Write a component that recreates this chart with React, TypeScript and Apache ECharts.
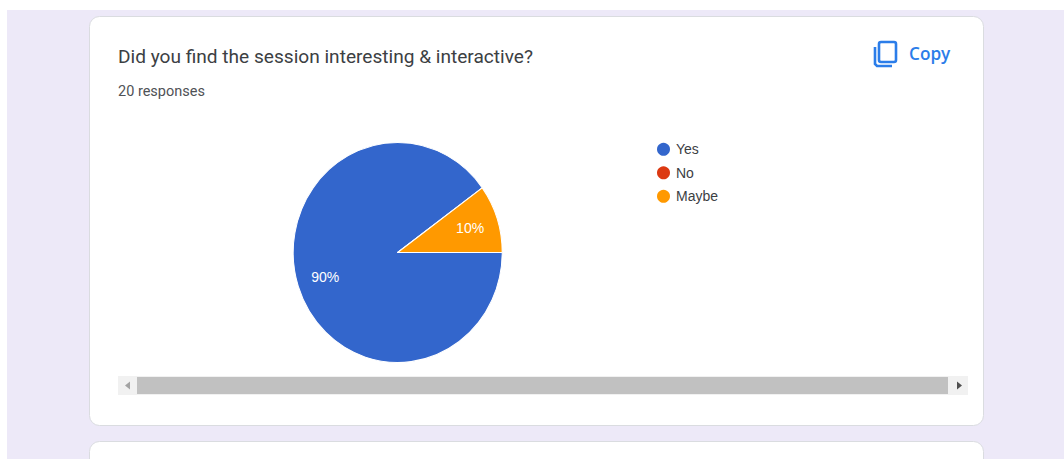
import React, { useEffect, useRef } from "react";
import * as echarts from "echarts";

const categories = ["Yes", "No", "Maybe"];
const seriesValues = [18, 0, 2];
const sliceColors = ["#3366cc", "#dc3912", "#ff9900"];
const titleText = "Did you find the session interesting & interactive?";
const responsesText = "20 responses";
const copyText = "Copy";

const PIE_RADIUS = 104.5;
const PIE_CX = 397.7;
const PIE_CY = 252.5;
const PIE_STRETCH_Y = 1.053;
const LABEL_RATIO = 0.7;
const total = seriesValues.reduce((a, b) => a + b, 0);

function midAngle(index: number) {
  let before = 0;
  for (let i = 0; i < index; i++) before += seriesValues[i];
  return ((before + seriesValues[index] / 2) / total) * Math.PI * 2;
}

export default function App() {
  const ref = useRef<HTMLDivElement>(null);
  useEffect(() => {
    document.body.style.margin = "0";
    const chart = echarts.init(ref.current!, null, { renderer: "svg" });
    const blue = "#2b7de9";
    chart.setOption({
      animation: false,
      backgroundColor: "#ffffff",
      color: sliceColors,
      legend: {
        orient: "vertical",
        left: 655,
        top: 140.8,
        padding: 0,
        icon: "circle",
        itemWidth: 15,
        itemHeight: 15,
        itemGap: 6.5,
        data: categories,
        selectedMode: false,
        textStyle: { fontFamily: "Liberation Sans", fontSize: 14, color: "#3c4043" },
      },
      graphic: [
        { type: "rect", z: -10, shape: { x: 7, y: 10, width: 1057, height: 449 }, style: { fill: "#ede9f8" } },
        { type: "rect", z: -9, shape: { x: 89.5, y: 16.5, width: 894, height: 409, r: 10 }, style: { fill: "#ffffff", stroke: "#dadce0", lineWidth: 1 } },
        { type: "rect", z: -9, shape: { x: 89.5, y: 441.5, width: 894, height: 60, r: 10 }, style: { fill: "#ffffff", stroke: "#dadce0", lineWidth: 1 } },
        { type: "text", x: 118, y: 46.5, style: { text: titleText, fontFamily: "Roboto", fontSize: 19.1, fill: "#3c4043" } },
        { type: "text", x: 118, y: 83.5, style: { text: responsesText, fontFamily: "Roboto", fontSize: 14.5, fill: "#4f5256" } },
        { type: "rect", shape: { x: 879, y: 42, width: 17, height: 20, r: 2 }, style: { fill: "none", stroke: blue, lineWidth: 2.6 } },
        { type: "polyline", shape: { points: [[875, 47], [875, 64], [877, 66], [892, 66]] }, style: { fill: "none", stroke: blue, lineWidth: 2.6 } },
        { type: "text", x: 909, y: 44.5, style: { text: copyText, fontFamily: "Open Sans", fontSize: 17.2, fontWeight: 600, fill: blue } },
        { type: "rect", shape: { x: 118, y: 376, width: 850, height: 19 }, style: { fill: "#f1f1f1" } },
        { type: "rect", shape: { x: 137, y: 377, width: 811, height: 17 }, style: { fill: "#c1c1c1" } },
        { type: "polygon", shape: { points: [[130, 381.5], [130, 389.5], [125, 385.5]] }, style: { fill: "#a3a3a3" } },
        { type: "polygon", shape: { points: [[957, 381.5], [957, 389.5], [962, 385.5]] }, style: { fill: "#505050" } },
      ],
      series: [
        {
          type: "pie",
          center: [PIE_CX, PIE_CY],
          radius: [0, PIE_RADIUS],
          startAngle: 0,
          clockwise: true,
          silent: true,
          data: categories.map((name, i) => ({ name, value: seriesValues[i] })),
          itemStyle: { borderColor: "#ffffff", borderWidth: 1 },
          label: {
            show: true,
            position: "inside",
            color: "#ffffff",
            fontFamily: "Liberation Sans",
            fontSize: 14,
            formatter: (p: any) => (p.value > 0 ? `${Math.round(p.percent)}%` : ""),
          },
          labelLayout: (p: any) => {
            const a = midAngle(p.dataIndex);
            const shift = (LABEL_RATIO - 0.5) * PIE_RADIUS;
            return { dx: Math.cos(a) * shift, dy: Math.sin(a) * shift * 1.1 };
          },
          labelLine: { show: false },
        },
      ],
    });
    // The reference pie is slightly taller than wide: stretch the drawn sectors about the pie's centre.
    const zr: any = chart.getZr();
    zr.storage.getDisplayList(true).forEach((el: any) => {
      if (el.type === "sector") {
        el.originX = PIE_CX;
        el.originY = PIE_CY;
        el.scaleY = PIE_STRETCH_Y;
        el.markRedraw();
      }
    });
    zr.flush();
    return () => chart.dispose();
  }, []);
  return <div ref={ref} style={{ position: "fixed", left: 0, top: 0, width: 1064, height: 459 }} />;
}
